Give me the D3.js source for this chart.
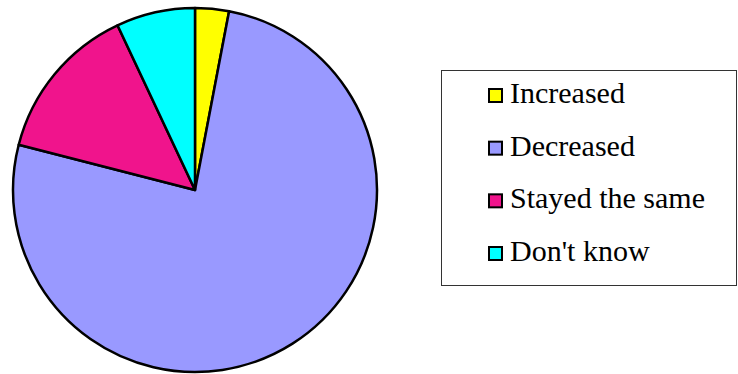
<!DOCTYPE html>
<html>
<head>
<meta charset="utf-8">
<script src="https://cdn.jsdelivr.net/npm/d3@7"></script>
<style>
  body { margin: 0; background: #fff; }
  svg { display: block; }
</style>
</head>
<body>
<svg id="chart" width="738" height="374"></svg>
<script>
const categories = ['Increased', 'Decreased', 'Stayed the same', "Don't know"];
const values = [3, 76, 14, 7];
const colors = ['#ffff00', '#9999ff', '#f0148c', '#00ffff'];

const svg = d3.select('#chart');
const cx = 195, cy = 190, radius = 182;

const pie = d3.pie().sort(null).value(d => d)(values);
const arc = d3.arc().innerRadius(0).outerRadius(radius);
const color = d3.scaleOrdinal().domain(categories).range(colors);

svg.append('g').attr('transform', `translate(${cx},${cy})`)
  .selectAll('path').data(pie).enter().append('path')
  .attr('d', arc)
  .attr('fill', (d, i) => color(categories[i]))
  .attr('stroke', '#000')
  .attr('stroke-width', 2.5)
  .attr('stroke-linejoin', 'round');

// legend
const legend = svg.append('g');
legend.append('rect')
  .attr('x', 441.5).attr('y', 70.5).attr('width', 295).attr('height', 215)
  .attr('fill', '#fff').attr('stroke', '#333').attr('stroke-width', 1);

const ly = d3.scalePoint().domain(categories).range([103, 261]);
const items = legend.selectAll('g.item').data(categories).enter().append('g').attr('class', 'item');
items.append('rect')
  .attr('x', 489).attr('y', d => ly(d) - 14)
  .attr('width', 13).attr('height', 13)
  .attr('fill', d => color(d))
  .attr('stroke', '#000').attr('stroke-width', 2);
items.append('text')
  .attr('x', 510).attr('y', d => ly(d))
  .attr('font-family', "'Liberation Serif', Tinos, 'Times New Roman', Times, 'DejaVu Serif', serif")
  .attr('font-size', 30)
  .attr('fill', '#000')
  .text(d => d);
</script>
</body>
</html>
